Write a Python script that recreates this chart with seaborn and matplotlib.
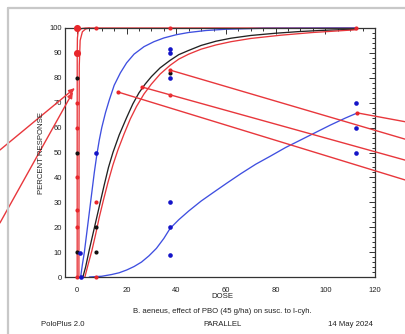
import matplotlib
matplotlib.use("Agg")
import matplotlib.pyplot as plt
from matplotlib.ticker import MultipleLocator
from matplotlib.lines import Line2D
import pandas as pd
import seaborn as sns

# ---------------- data ----------------
# observed points
red_dose = [0, 0, 0, 0, 0, 0, 0, 0, 7.5, 7.5, 7.5, 37.5, 37.5, 112.5]
red_resp = [100, 90, 70, 60, 40, 27, 20, 0, 100, 30, 0, 100, 73, 100]
red_big = [1, 1, 0, 0, 0, 0, 0, 0, 0, 0, 0, 0, 0, 0]

black_dose = [0, 0, 0, 7.5, 7.5, 37.5]
black_resp = [80, 50, 10, 20, 10, 82]

blue_dose = [1.3, 1.6, 7.5, 37.5, 37.5, 37.5, 37.5, 37.5, 37.5, 112.5, 112.5, 112.5]
blue_resp = [9.5, 0, 50, 91.5, 90, 80, 30, 20, 9, 70, 60, 50]

# fitted response curves
red_steep_dose = [0.1, 0.1, 0.12, 0.2, 0.5, 1.0, 2.0, 3.5, 7.5, 37.5, 112.5]
red_steep_resp = [0, 50, 90, 96, 98.5, 99.3, 99.8, 100, 100, 100, 100]

red_steep2_dose = [0.8, 0.85, 0.95, 1.3, 2.2, 3.5, 5.0]
red_steep2_resp = [0, 50, 85, 95, 98.5, 99.6, 100]

blue_steep_dose = [1.5, 2.2, 3, 4, 5, 6, 7, 8, 9, 10, 11.5, 13, 15, 17.5, 20,
                   23, 27, 31, 35, 40, 45, 52, 60, 75, 112.5]
blue_steep_resp = [0, 5, 10, 18, 26, 34, 42, 49, 55, 60, 66, 71, 77, 82, 86,
                   89.5, 92.5, 94.5, 96, 97.3, 98.2, 99, 99.5, 99.9, 100]

black_curve_dose = [2.4, 3.5, 5, 6.5, 8, 9.5, 11, 12.7, 14.5, 17, 20, 22.5, 25,
                    27.5, 30, 33.5, 37.5, 41, 45, 50, 56, 62, 70, 80, 90, 100, 112.5]
black_curve_resp = [0, 4, 11, 17.5, 24, 30.5, 37, 44, 50, 57, 64, 69.5, 74,
                    77.5, 80.5, 84, 87, 89.3, 91, 93, 94.7, 95.9, 97, 97.9, 98.6, 99.1, 99.5]

red_curve_dose = [3.2, 4.5, 6, 7.5, 9, 10.7, 12.5, 14.5, 16.5, 19, 21.5, 24, 27,
                  30, 33.5, 37.5, 41, 45, 50, 56, 62, 70, 82, 95, 112.5]
red_curve_resp = [0, 5, 10.5, 17, 24, 31, 38, 45, 51, 57.5, 63.5, 68.5, 73.5,
                  77.5, 81.5, 85, 87.5, 89.5, 91.5, 93.2, 94.5, 95.8, 97.1, 98.2, 99.3]

blue_shallow_dose = [5, 10, 14, 17, 20, 23, 26, 29, 32, 35, 37.5, 41, 45, 50, 55,
                     60.5, 66, 72, 78, 84, 90, 96, 102, 108, 112.9]
blue_shallow_resp = [0, 0.3, 1, 1.7, 2.8, 4.2, 6, 8.5, 11.5, 15.5, 19.5, 23, 26.5,
                     30.5, 34, 37.8, 41.5, 45.3, 48.6, 52, 55, 58, 61, 63.8, 65.9]

# red annotation arrows overlaid on the chart (data units)
arrow_left_from_x = [-31, -31]
arrow_left_from_y = [51, 21.7]
arrow_left_to_x = [-0.8, -1.6]
arrow_left_to_y = [75.9, 74.3]

line_right_start_x = [37.5, 26.2, 16.5, 112.9]
line_right_start_y = [83.1, 76.3, 74.3, 65.9]
line_right_end_x = [133, 133, 133, 133]
line_right_end_y = [55.1, 46.7, 38.7, 62.2]

title_text = "B. aeneus, effect of PBO (45 g/ha) on susc. to l-cyh."
footer_left = "PoloPlus 2.0"
footer_mid = "PARALLEL"
footer_right = "14 May 2024"

# ---------------- styling ----------------
sns.set_style("white")
plt.rcParams["font.family"] = ["Liberation Sans", "DejaVu Sans"]

RED = "#e8262b"
RED_LINE = "#e8373c"
BLUE_PT = "#1414c8"
BLUE_LINE = "#3f4fe0"
BLACK = "#111111"

W, H = 405, 334
fig = plt.figure(figsize=(W / 100, H / 100), dpi=100)
ax = fig.add_axes([65 / W, 1 - 277 / H, 310 / W, 249 / H])

curves = []
for name, xs, ys in [
    ("red_steep", red_steep_dose, red_steep_resp),
    ("red_steep2", red_steep2_dose, red_steep2_resp),
    ("blue_steep", blue_steep_dose, blue_steep_resp),
    ("black", black_curve_dose, black_curve_resp),
    ("red", red_curve_dose, red_curve_resp),
    ("blue_shallow", blue_shallow_dose, blue_shallow_resp),
]:
    curves.append(pd.DataFrame({"dose": xs, "resp": ys, "curve": name}))
curves = pd.concat(curves, ignore_index=True)
pal = {"red_steep": RED_LINE, "red_steep2": RED_LINE, "blue_steep": BLUE_LINE,
       "black": "#222222", "red": RED_LINE, "blue_shallow": BLUE_LINE}
sns.lineplot(data=curves, x="dose", y="resp", hue="curve", units="curve",
             estimator=None, sort=False, palette=pal, legend=False,
             linewidth=0.95, ax=ax, clip_on=False)

red_df = pd.DataFrame({"dose": red_dose, "resp": red_resp, "big": red_big})
sns.scatterplot(data=red_df[red_df.big == 0], x="dose", y="resp", color=RED,
                s=9, linewidth=0, ax=ax, clip_on=False, zorder=4)
sns.scatterplot(data=red_df[red_df.big == 1], x="dose", y="resp", color=RED,
                s=26, linewidth=0, ax=ax, clip_on=False, zorder=4)
sns.scatterplot(x=black_dose, y=black_resp, color=BLACK, s=9, linewidth=0,
                ax=ax, clip_on=False, zorder=4)
sns.scatterplot(x=blue_dose, y=blue_resp, color=BLUE_PT, s=11, linewidth=0,
                ax=ax, clip_on=False, zorder=4)

ax.set_xlim(-4.8, 120)
ax.set_ylim(0, 100)
ax.set_xticks(range(0, 121, 20))
ax.set_yticks(range(0, 101, 10))
ax.xaxis.set_minor_locator(MultipleLocator(5))
ax.yaxis.set_minor_locator(MultipleLocator(2))
ax.tick_params(which="both", direction="in", top=True, right=True,
               labelsize=5.5, width=0.7, color="#333333", labelcolor="#222222")
ax.tick_params(which="major", length=4)
ax.tick_params(which="minor", length=2)
ax.tick_params(axis="x", pad=7)
ax.tick_params(axis="y", pad=2)
for s in ax.spines.values():
    s.set_linewidth(0.9)
    s.set_color("#333333")
ax.set_xlabel("")
ax.set_ylabel("")

# annotation arrows
for fx, fy, tx, ty in zip(arrow_left_from_x, arrow_left_from_y,
                          arrow_left_to_x, arrow_left_to_y):
    ax.annotate("", xy=(tx, ty), xytext=(fx, fy), xycoords="data",
                annotation_clip=False,
                arrowprops=dict(arrowstyle="-|>,head_length=0.35,head_width=0.15",
                                color=RED_LINE, lw=1.0, shrinkA=0, shrinkB=0),
                zorder=6)
for sx, sy, ex, ey in zip(line_right_start_x, line_right_start_y,
                          line_right_end_x, line_right_end_y):
    ax.plot([sx, ex], [sy, ey], color=RED_LINE, lw=1.0, clip_on=False, zorder=6)
sns.scatterplot(x=line_right_start_x, y=line_right_start_y, color=RED, s=9,
                linewidth=0, ax=ax, clip_on=False, zorder=7)

# texts
tc = "#222222"
fig.text(41.5 / W, 1 - 153 / H, "PERCENT RESPONSE", rotation=90, ha="center",
         va="center", fontsize=5.6, color=tc)
fig.text(222 / W, 1 - 297 / H, "DOSE", ha="center", va="center", fontsize=5.6, color=tc)
fig.text(222 / W, 1 - 311.5 / H, title_text, ha="center", va="center", fontsize=5.6, color=tc)
fig.text(63 / W, 1 - 325 / H, footer_left, ha="center", va="center", fontsize=5.6, color=tc)
fig.text(222 / W, 1 - 325 / H, footer_mid, ha="center", va="center", fontsize=5.6, color=tc)
fig.text(350 / W, 1 - 325 / H, footer_right, ha="center", va="center", fontsize=5.6, color=tc)

# light gray frame of the screenshot panel
fig.add_artist(Line2D([7.5 / W, 7.5 / W], [0, 1 - 8 / H], color="#c8c8c8", lw=1.6,
                      transform=fig.transFigure))
fig.add_artist(Line2D([7.5 / W, 1], [1 - 8 / H, 1 - 8 / H], color="#c8c8c8", lw=1.6,
                      transform=fig.transFigure))

fig.savefig("out.png", dpi=100)
